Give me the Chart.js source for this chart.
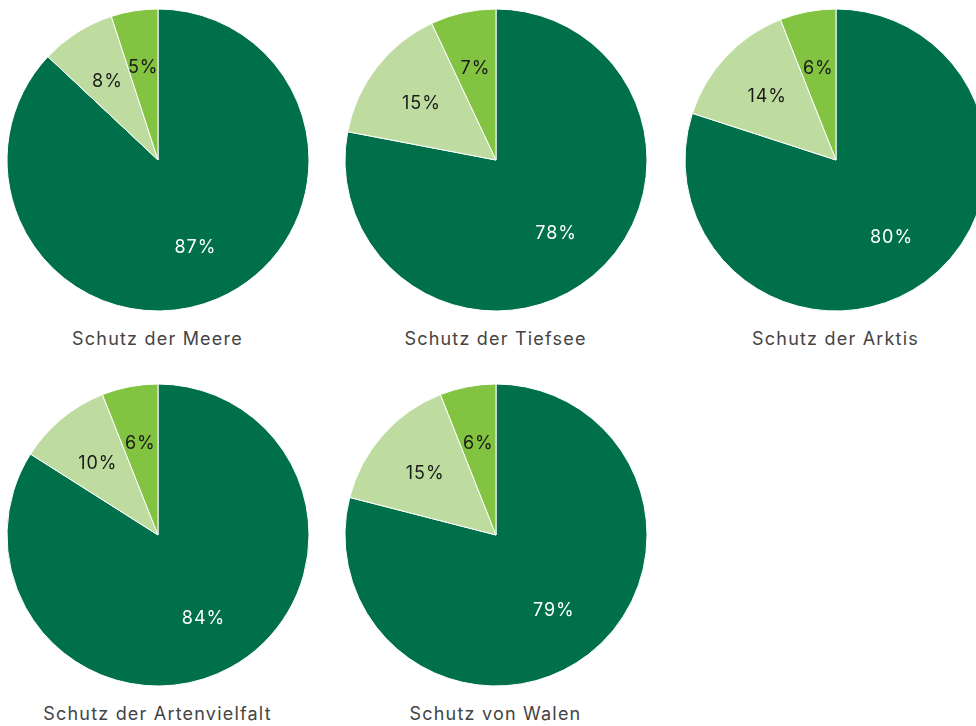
<!DOCTYPE html>
<html>
<head>
<meta charset="utf-8">
<script src="https://cdn.jsdelivr.net/npm/chart.js@4"></script>
<style>
  html, body { margin: 0; padding: 0; background: #fff; width: 976px; height: 726px; overflow: hidden; }
  .pie { position: absolute; width: 320px; height: 320px; }
  .cap { position: absolute; width: 300px; text-align: center; font-family: Inter, sans-serif;
         font-size: 18px; color: #444; letter-spacing: 1.2px; line-height: 20px; }
</style>
</head>
<body>
<script>
// Daten
const titles = ["Schutz der Meere", "Schutz der Tiefsee", "Schutz der Arktis", "Schutz der Artenvielfalt", "Schutz von Walen"];
const meere = [87, 8, 5];
const tiefsee = [78, 15, 7];
const arktis = [80, 14, 6];
const artenvielfalt = [84, 10, 6];
const walen = [79, 15, 6];
const seriesList = [meere, tiefsee, arktis, artenvielfalt, walen];

const colors = ['#00704a', '#bfdca0', '#82c341'];
const textColors = ['#ffffff', '#1a1a1a', '#1a1a1a'];

// Position der Kreise
const centers = [[157.5, 160], [495.5, 160], [835.5, 160], [157.5, 535], [495.5, 535]];
const captionY = [339, 339, 339, 714, 714];

// Prozent-Beschriftung in den Segmenten
const pctLabels = {
    id: 'pctLabels',
    afterDatasetsDraw(chart) {
        const ctx = chart.ctx;
        const meta = chart.getDatasetMeta(0);
        const data = chart.data.datasets[0].data;
        ctx.save();
        ctx.font = '18px Inter, sans-serif';
        ctx.letterSpacing = '1px';
        ctx.textAlign = 'center';
        ctx.textBaseline = 'middle';
        meta.data.forEach((arc, i) => {
            const mid = (arc.startAngle + arc.endAngle) / 2;
            const r = arc.outerRadius * 0.625;
            ctx.fillStyle = textColors[i];
            ctx.fillText(data[i] + '%', arc.x + Math.cos(mid) * r, arc.y + Math.sin(mid) * r + 1);
        });
        ctx.restore();
    }
};

seriesList.forEach((values, n) => {
    const [cx, cy] = centers[n];
    const canvas = document.createElement('canvas');
    canvas.className = 'pie';
    canvas.style.left = (cx - 160) + 'px';
    canvas.style.top = (cy - 160) + 'px';
    document.body.appendChild(canvas);

    new Chart(canvas, {
        type: 'pie',
        data: {
            labels: ['Ja', 'Teils', 'Nein'],
            datasets: [{
                data: values,
                backgroundColor: colors,
                borderColor: '#ffffff',
                borderWidth: 1,
                radius: 151
            }]
        },
        options: {
            responsive: false,
            animation: false,
            plugins: { legend: { display: false }, tooltip: { enabled: false } }
        },
        plugins: [pctLabels]
    });

    const cap = document.createElement('div');
    cap.className = 'cap';
    cap.textContent = titles[n];
    cap.style.left = (cx - 150) + 'px';
    cap.style.top = (captionY[n] - 10) + 'px';
    document.body.appendChild(cap);
});
</script>
</body>
</html>
